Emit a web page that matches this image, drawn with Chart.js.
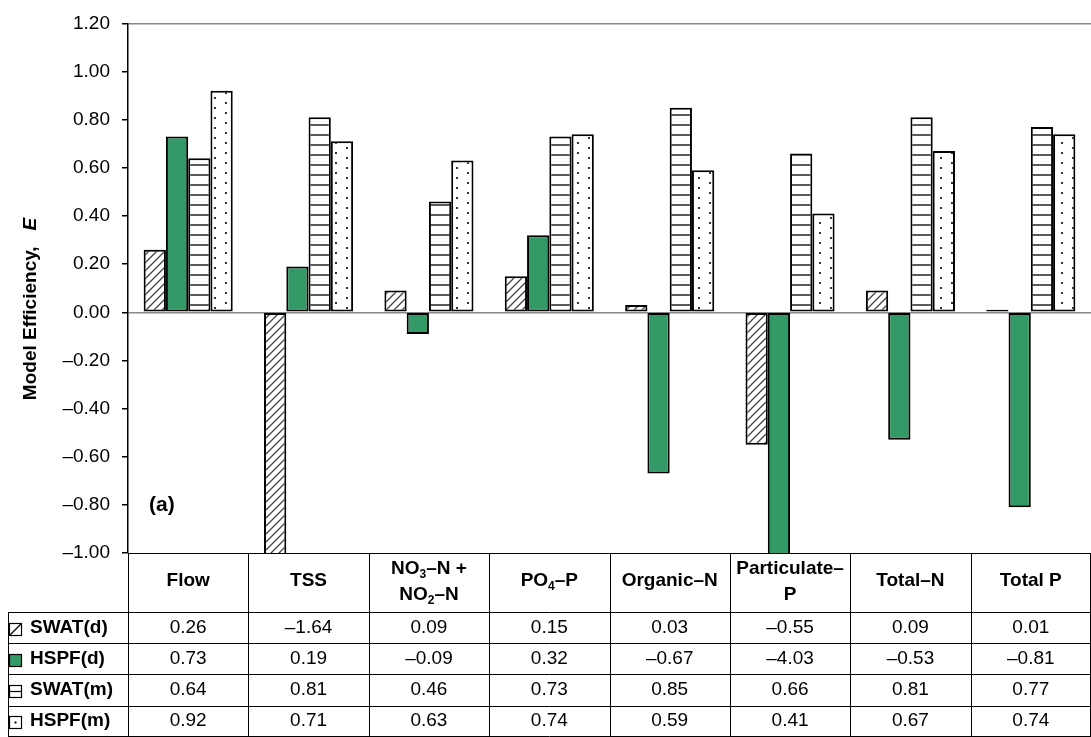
<!DOCTYPE html>
<html>
<head>
<meta charset="utf-8">
<script src="https://cdn.jsdelivr.net/npm/chart.js@4"></script>
<style>
  body { margin: 0; background: #fff; }
  #wrap { width: 1091px; height: 737px; position: relative; }
</style>
</head>
<body>
<div id="wrap"><canvas id="effChart"></canvas></div>
<script>
// data
var categories = ['Flow', 'TSS', 'NO3-N + NO2-N', 'PO4-P', 'Organic-N', 'Particulate-P', 'Total-N', 'Total P'];
var headerLines = [
    [[['Flow']]],
    [[['TSS']]],
    [[['NO'], ['3', 1], ['\u2013N +']], [['NO'], ['2', 1], ['\u2013N']]],
    [[['PO'], ['4', 1], ['\u2013P']]],
    [[['Organic\u2013N']]],
    [[['Particulate\u2013']], [['P']]],
    [[['Total\u2013N']]],
    [[['Total P']]]
];
var seriesNames = ['SWAT(d)', 'HSPF(d)', 'SWAT(m)', 'HSPF(m)'];
var swatD = [0.26, -1.64, 0.09, 0.15, 0.03, -0.55, 0.09, 0.01];
var hspfD = [0.73, 0.19, -0.09, 0.32, -0.67, -4.03, -0.53, -0.81];
var swatM = [0.64, 0.81, 0.46, 0.73, 0.85, 0.66, 0.81, 0.77];
var hspfM = [0.92, 0.71, 0.63, 0.74, 0.59, 0.41, 0.67, 0.74];
var yMin = -1.0, yMax = 1.2, yStep = 0.2;

var FONT = "'Liberation Sans', Arial, sans-serif";
var GREEN = '#339966';
var TXT = 19;

function fmt(v) {
    if (Math.abs(v) < 1e-9) return '0.00';
    var s = Math.abs(v).toFixed(2);
    return v < 0 ? '\u2013' + s : s;
}

// fill patterns
function makeTile(w, h, draw) {
    var c = document.createElement('canvas');
    c.width = w; c.height = h;
    var g = c.getContext('2d');
    g.fillStyle = '#fff';
    g.fillRect(0, 0, w, h);
    draw(g);
    return c.getContext('2d').createPattern(c, 'repeat');
}
var hatch = makeTile(8, 8, function (g) {
    g.strokeStyle = '#444';
    g.lineWidth = 1.3;
    g.beginPath();
    g.moveTo(0, 8); g.lineTo(8, 0);
    g.moveTo(-1, 1); g.lineTo(1, -1);
    g.moveTo(7, 9); g.lineTo(9, 7);
    g.stroke();
});
var stripes = makeTile(4, 10, function (g) {
    g.fillStyle = '#5a5a5a';
    g.fillRect(0, 4, 4, 2);
});
var dots = makeTile(22, 10, function (g) {
    g.fillStyle = '#333';
    g.fillRect(5, 2, 2, 2);
    g.fillRect(16, 7, 2, 2);
});

var fills = [hatch, GREEN, stripes, dots];
var values = [swatD, hspfD, swatM, hspfM];

function drawSegs(ctx, segs, cx, cy) {
    var total = 0, widths = [];
    segs.forEach(function (s) {
        ctx.font = s[1] ? 'bold 12px ' + FONT : 'bold ' + TXT + 'px ' + FONT;
        var w = ctx.measureText(s[0]).width;
        widths.push(w);
        total += w;
    });
    var x = cx - total / 2;
    ctx.textAlign = 'left';
    ctx.textBaseline = 'middle';
    segs.forEach(function (s, i) {
        ctx.font = s[1] ? 'bold 12px ' + FONT : 'bold ' + TXT + 'px ' + FONT;
        ctx.fillText(s[0], x, cy + (s[1] ? 6 : 0));
        x += widths[i];
    });
}

function drawIcon(ctx, i, x, y) {
    var s = 12;
    ctx.lineWidth = 1.2;
    ctx.strokeStyle = '#000';
    if (i === 1) {
        ctx.fillStyle = GREEN;
        ctx.fillRect(x, y, s, s);
    }
    ctx.strokeRect(x + 0.5, y + 0.5, s, s);
    ctx.beginPath();
    if (i === 0) {
        ctx.moveTo(x + 1, y + s); ctx.lineTo(x + s, y + 1);
    } else if (i === 2) {
        ctx.moveTo(x, y + 6.5); ctx.lineTo(x + s, y + 6.5);
    }
    ctx.stroke();
    if (i === 3) {
        ctx.fillStyle = '#000';
        ctx.fillRect(x + 5.5, y + 5.5, 2, 2);
    }
}

var tablePlugin = {
    id: 'tablePlugin',
    afterDraw: function (chart) {
        var ctx = chart.ctx;
        var area = chart.chartArea;
        var xs = chart.scales.x;
        var left = area.left, right = area.right - 0.5;
        var top = area.bottom;
        var headerBottom = 612;
        var rowH = 31.2;
        var legendLeft = 8.5;
        var n = categories.length;
        var colW = (area.right - area.left) / n;

        ctx.save();
        ctx.strokeStyle = '#000';
        ctx.lineWidth = 1;
        ctx.beginPath();
        // horizontal rules
        ctx.moveTo(left, top + 0.5); ctx.lineTo(right, top + 0.5);
        for (var r = 0; r <= seriesNames.length; r++) {
            var yy = Math.round(headerBottom + r * rowH) + 0.5;
            if (r === seriesNames.length) yy = 736.5;
            ctx.moveTo(legendLeft, yy); ctx.lineTo(right, yy);
        }
        // vertical rules
        for (var c = 0; c <= n; c++) {
            var xx = Math.round(left + c * colW) + 0.5;
            if (c === n) xx = right;
            ctx.moveTo(xx, top); ctx.lineTo(xx, 737);
        }
        ctx.moveTo(legendLeft, headerBottom); ctx.lineTo(legendLeft, 737);
        ctx.stroke();

        ctx.fillStyle = '#000';
        // header
        headerLines.forEach(function (lines, i) {
            var cx = xs.getPixelForValue(i);
            if (lines.length === 1) {
                drawSegs(ctx, lines[0], cx, 581);
            } else {
                drawSegs(ctx, lines[0], cx, 569);
                drawSegs(ctx, lines[1], cx, 595);
            }
        });
        // rows
        seriesNames.forEach(function (name, r) {
            var cy = headerBottom + r * rowH + rowH / 2;
            drawIcon(ctx, r, 9, Math.round(cy - 5));
            ctx.fillStyle = '#000';
            ctx.font = 'bold ' + TXT + 'px ' + FONT;
            ctx.textAlign = 'left';
            ctx.textBaseline = 'middle';
            ctx.fillText(name, 30, cy);
            ctx.font = TXT + 'px ' + FONT;
            ctx.textAlign = 'center';
            values[r].forEach(function (v, i) {
                ctx.fillText(fmt(v), xs.getPixelForValue(i), cy);
            });
        });

        // panel tag
        ctx.font = 'bold 21px ' + FONT;
        ctx.textAlign = 'left';
        ctx.fillText('(a)', 149, 505);

        // y axis title
        ctx.save();
        ctx.translate(31, 309);
        ctx.rotate(-Math.PI / 2);
        ctx.font = 'bold ' + TXT + 'px ' + FONT;
        var t1 = 'Model Efficiency,   ';
        var w1 = ctx.measureText(t1).width;
        ctx.font = 'italic bold ' + TXT + 'px ' + FONT;
        var w2 = ctx.measureText('E').width;
        var sx = -(w1 + w2) / 2;
        ctx.textAlign = 'left';
        ctx.font = 'bold ' + TXT + 'px ' + FONT;
        ctx.fillText(t1, sx, 0);
        ctx.font = 'italic bold ' + TXT + 'px ' + FONT;
        ctx.fillText('E', sx + w1, 0);
        ctx.restore();

        ctx.restore();
    }
};

var datasets = seriesNames.map(function (name, i) {
    return {
        label: name,
        data: values[i],
        backgroundColor: fills[i],
        borderColor: '#000',
        borderWidth: 2,
        borderSkipped: false
    };
});

var ctx = document.getElementById('effChart');
var effChart = new Chart(ctx, {
    type: 'bar',
    data: { labels: categories, datasets: datasets },
    plugins: [tablePlugin],
    options: {
        responsive: true,
        maintainAspectRatio: false,
        animation: false,
        events: [],
        layout: { padding: { top: 22, bottom: 184, left: 0, right: 0 } },
        datasets: {
            bar: { categoryPercentage: 0.74, barPercentage: 1.0 }
        },
        plugins: {
            legend: { display: false },
            tooltip: { enabled: false }
        },
        scales: {
            x: { display: false },
            y: {
                min: yMin,
                max: yMax,
                afterFit: function (s) { s.width = 128; },
                border: { color: '#000', width: 1.5 },
                grid: {
                    lineWidth: 1.5,
                    tickLength: 6,
                    tickColor: '#000',
                    color: function (c) {
                        var v = c.tick ? c.tick.value : 1;
                        if (Math.abs(v) < 1e-6 || Math.abs(v - yMax) < 1e-6) return '#888';
                        return 'rgba(0,0,0,0)';
                    }
                },
                ticks: {
                    stepSize: yStep,
                    padding: 12,
                    color: '#000',
                    font: { family: FONT, size: TXT },
                    callback: function (v) { return fmt(v); }
                }
            }
        }
    }
});
</script>
</body>
</html>
